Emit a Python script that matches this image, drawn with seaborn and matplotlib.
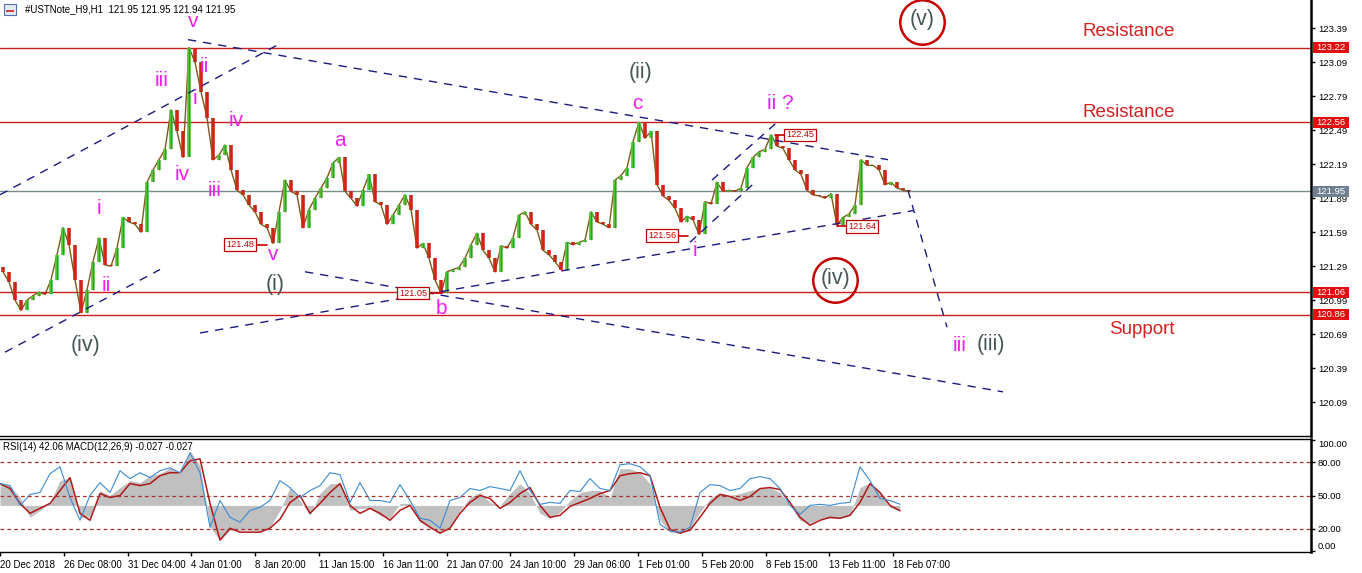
import matplotlib
matplotlib.use("Agg")
import matplotlib.pyplot as plt
import matplotlib.transforms as mtransforms
from matplotlib.patches import Rectangle
import numpy as np
import pandas as pd
import seaborn as sns

# ---- data -------------------------------------------------------------
# closing prices, one sample every 6 hourly bars
first_open = 121.28
closes = [121.24, 121.15, 120.99, 120.90, 120.99, 121.03, 121.06, 121.04, 121.17, 121.39,
          121.63, 121.48, 121.17, 120.88, 121.08, 121.33, 121.54, 121.30, 121.29, 121.45,
          121.72, 121.68, 121.66, 121.59, 122.03, 122.14, 122.23, 122.32, 122.67, 122.48,
          122.25, 123.22, 123.09, 122.83, 122.60, 122.23, 122.27, 122.36, 122.14, 121.96,
          121.92, 121.83, 121.77, 121.66, 121.63, 121.49, 121.77, 122.05, 121.95, 121.92,
          121.63, 121.79, 121.89, 121.98, 122.07, 122.20, 122.25, 121.95, 121.89, 121.82,
          121.96, 122.10, 121.86, 121.83, 121.66, 121.74, 121.83, 121.92, 121.79, 121.45,
          121.49, 121.36, 121.17, 121.05, 121.24, 121.26, 121.28, 121.36, 121.48, 121.58,
          121.43, 121.36, 121.24, 121.47, 121.45, 121.54, 121.74, 121.77, 121.66, 121.61,
          121.43, 121.39, 121.33, 121.26, 121.50, 121.48, 121.50, 121.52, 121.77, 121.68,
          121.66, 121.63, 122.05, 122.09, 122.16, 122.39, 122.56, 122.42, 122.48, 122.01,
          121.91, 121.87, 121.80, 121.68, 121.73, 121.70, 121.57, 121.86, 121.84, 122.03,
          121.95, 121.96, 121.95, 121.98, 122.16, 122.25, 122.30, 122.32, 122.45, 122.35,
          122.33, 122.23, 122.14, 122.10, 121.96, 121.92, 121.91, 121.89, 121.93, 121.65,
          121.72, 121.75, 121.83, 122.23, 122.18, 122.18, 122.14, 122.01, 122.03, 121.98,
          121.96, 121.95]

# indicator samples, one every 10 hourly bars
rsi = [60.7, 58.9, 41.1, 50.9, 52.7, 69.6, 75.9, 48.2, 27.7, 50.0,
       61.6, 52.7, 72.3, 65.2, 70.5, 66.1, 72.3, 75.0, 70.5, 88.4,
       70.5, 21.4, 45.5, 30.4, 25.9, 36.6, 39.3, 45.5, 63.4, 57.1,
       48.2, 54.5, 58.9, 70.5, 68.8, 43.8, 61.6, 45.5, 45.5, 43.8,
       59.8, 45.5, 29.5, 27.7, 20.5, 45.5, 48.2, 56.3, 54.5, 58.0,
       56.3, 54.5, 72.3, 54.5, 42.0, 43.8, 42.9, 54.5, 53.6, 65.2,
       56.3, 54.5, 77.7, 78.6, 75.9, 67.9, 24.1, 17.9, 17.0, 21.4,
       52.7, 59.8, 58.9, 54.5, 56.3, 65.2, 67.0, 65.2, 56.3, 41.1,
       33.0, 41.1, 42.0, 41.1, 42.9, 43.8, 75.9, 63.4, 47.3, 45.5, 42.1]
macd_signal = [0.11, 0.085, 0.01, -0.04, -0.015, 0.01, 0.075, 0.14, -0.04, -0.075,
               0.06, 0.04, 0.05, 0.11, 0.10, 0.11, 0.15, 0.165, 0.165, 0.225,
               0.235, 0.01, -0.175, -0.115, -0.135, -0.135, -0.135, -0.115, -0.07, 0.015,
               0.05, -0.04, 0.01, 0.065, 0.11, 0.0, -0.04, -0.015, -0.04, -0.075,
               -0.025, 0.0, -0.075, -0.11, -0.14, -0.115, -0.04, 0.015, 0.05, 0.035,
               -0.015, 0.015, 0.06, 0.09, 0.0, -0.06, -0.05, -0.005, 0.015, 0.035,
               0.06, 0.075, 0.15, 0.16, 0.165, 0.15, -0.01, -0.12, -0.14, -0.125,
               -0.06, 0.01, 0.055, 0.045, 0.025, 0.045, 0.085, 0.09, 0.08, 0.015,
               -0.06, -0.10, -0.075, -0.06, -0.065, -0.05, 0.015, 0.11, 0.065, 0.0, -0.027]
macd_hist = [0.115, 0.10, 0.04, -0.06, -0.025, 0.015, 0.125, 0.14, -0.06, -0.06,
             0.075, 0.05, 0.09, 0.125, 0.115, 0.15, 0.16, 0.19, 0.16, 0.275,
             0.20, -0.11, -0.175, -0.125, -0.125, -0.125, -0.13, -0.11, -0.025, 0.09,
             0.025, -0.05, 0.06, 0.11, 0.11, -0.025, -0.015, -0.015, -0.05, -0.065,
             0.01, 0.01, -0.085, -0.11, -0.14, -0.11, -0.025, 0.04, 0.065, 0.015,
             0.0, 0.06, 0.11, 0.06, -0.04, -0.065, -0.035, 0.025, 0.065, 0.075,
             0.075, 0.04, 0.185, 0.185, 0.165, 0.11, -0.075, -0.135, -0.14, -0.115,
             -0.035, 0.035, 0.065, 0.05, 0.06, 0.075, 0.085, 0.09, 0.065, 0.0,
             -0.075, -0.09, -0.065, -0.065, -0.065, -0.05, 0.09, 0.115, 0.065, -0.01, -0.027]

date_labels = ["20 Dec 2018", "26 Dec 08:00", "31 Dec 04:00", "4 Jan 01:00", "8 Jan 20:00",
               "11 Jan 15:00", "16 Jan 11:00", "21 Jan 07:00", "24 Jan 10:00", "29 Jan 06:00",
               "1 Feb 01:00", "5 Feb 20:00", "8 Feb 15:00", "13 Feb 11:00", "18 Feb 07:00"]

levels = [123.22, 122.56, 121.06, 120.86]
last_price = 121.95
price_ticks = [120.09, 120.39, 120.69, 120.99, 121.29, 121.59, 121.89,
               122.19, 122.49, 122.79, 123.09, 123.39]

# hand drawn trend lines: (bar, price) -> (bar, price)
tl_x0 = [0, 5, 188, 305, 200, 690, 712, 908]
tl_p0 = [121.92, 120.53, 123.29, 121.24, 120.70, 121.50, 122.05, 121.96]
tl_x1 = [277, 160, 888, 1003, 913, 755, 777, 947]
tl_p1 = [123.24, 121.26, 122.23, 120.18, 121.78, 122.03, 122.56, 120.75]

# wave labels
wave_text = ["v", "iii", "ii", "i", "iv", "iv", "iii", "i", "ii", "v", "a", "b", "c", "i", "ii ?", "iii"]
wave_x = [193, 162, 204, 195, 236, 182, 215, 99, 106, 273, 340, 441, 637, 695, 780, 960]
wave_p = [123.45, 122.93, 123.05, 122.77, 122.58, 122.10, 121.96, 121.80, 121.12,
          121.39, 122.40, 120.92, 122.73, 121.43, 122.73, 120.59]
degree_text = ["(v)", "(ii)", "(i)", "(iv)", "(iv)", "(iii)"]
degree_x = [922, 640, 275, 86, 835, 991]
degree_p = [123.47, 123.00, 121.13, 120.59, 121.18, 120.60]
circle_x = [922, 835]
circle_p = [123.45, 121.17]

# price tags
tag_val = [121.48, 121.05, 121.56, 122.45, 121.64]
tag_x = [240, 413, 662, 800, 862]
tag_lx0 = [254, 428, 677, 775, 837]
tag_lx1 = [267, 442, 688, 785, 847]

# ---- style ------------------------------------------------------------
sns.set_theme(style="white")
plt.rcParams['font.family'] = ['Liberation Sans', 'DejaVu Sans']

W, H = 1362, 573
fig = plt.figure(figsize=(W / 100, H / 100), dpi=100)
ax = fig.add_axes([0, 1 - 436 / H, 1311 / W, 436 / H])
low = fig.add_axes([0, 1 - 552 / H, 1311 / W, 113 / H])

XMAX = 1311
BAR = 6

# ---- candles ----------------------------------------------------------
df = pd.DataFrame({"x": [3 + BAR * i for i in range(len(closes))],
                   "open": [first_open] + closes[:-1],
                   "close": closes})
up = df[df["close"] >= df["open"]]
dn = df[df["close"] < df["open"]]
sns.lineplot(data=df, x="x", y="close", ax=ax, color="#7a5c18", lw=1.0, zorder=3)
ax.vlines(up["x"], up["open"], up["close"], color="#4fc236", lw=2.6, zorder=3)
ax.vlines(dn["x"], dn["close"], dn["open"], color="#cc2a1a", lw=2.6, zorder=3)
ax.vlines(df["x"], df[["open", "close"]].min(axis=1), df[["open", "close"]].max(axis=1),
          color="#6b4a10", lw=0.6, alpha=0.6, zorder=4)

for lv in levels:
    ax.axhline(lv, color="#c81e1e", lw=1, zorder=2)
ax.axhline(last_price, color="#7b8b8b", lw=1, zorder=2)

for x0, p0, x1, p1 in zip(tl_x0, tl_p0, tl_x1, tl_p1):
    ax.plot([x0, x1], [p0, p1], color="#1a1a80", lw=1, ls=(0, (6, 5)), zorder=5)

for t, x, p in zip(wave_text, wave_x, wave_p):
    ax.text(x, p, t, color="#ee22ee", fontsize=15, ha="center", va="center", zorder=6)
for t, x, p in zip(degree_text, degree_x, degree_p):
    ax.text(x, p, t, color="#465656", fontsize=15.5, ha="center", va="center", zorder=6)
ax.plot(circle_x, circle_p, ls="none", marker="o", ms=32, mfc="none",
        mec="#c40000", mew=1.8, zorder=6, clip_on=False)

ax.text(1129, 123.36, "Resistance", color="#d42020", fontsize=13.5, ha="center", va="center")
ax.text(1129, 122.65, "Resistance", color="#d42020", fontsize=13.5, ha="center", va="center")
ax.text(1142, 120.73, "Support", color="#d42020", fontsize=13.5, ha="center", va="center")

for v, x, lx0, lx1 in zip(tag_val, tag_x, tag_lx0, tag_lx1):
    ax.plot([lx0, lx1], [v, v], color="#c00000", lw=1.2, zorder=6)
    ax.text(x, v, f"{v:.2f}", color="#c00000", fontsize=6.6, ha="center", va="center",
            zorder=7, bbox=dict(boxstyle="square,pad=0.18", fc="white", ec="#c00000", lw=0.9))

ax.set_xlim(0, XMAX)
ax.set_ylim(119.79, 123.64)
ax.set_xticks([])
ax.set_xlabel("")
ax.set_ylabel("")
ax.yaxis.tick_right()
ax.set_yticks(price_ticks)
ax.set_yticklabels([f"{t:.2f}" for t in price_ticks])
ax.tick_params(axis="y", right=True, length=3, width=1, color="black", pad=2,
               labelsize=6.8, labelcolor="black")
for s in ["left", "top"]:
    ax.spines[s].set_visible(False)
ax.spines["right"].set_color("black")
ax.spines["right"].set_linewidth(1.8)
ax.spines["bottom"].set_color("black")
ax.spines["bottom"].set_linewidth(1.0)

# right-axis price boxes
trans = mtransforms.blended_transform_factory(ax.transAxes, ax.transData)
bw, bh = 36 / 1311, 11 * 0.008824
for lv, fc in zip(levels + [last_price], ["#e01010"] * 4 + ["#708090"]):
    ax.add_patch(Rectangle((1.0015, lv - bh / 2), bw, bh, transform=trans, fc=fc,
                           ec="none", clip_on=False, zorder=10))
    ax.text(1.0015 + bw / 2, lv, f"{lv:.2f}", transform=trans, color="white", fontsize=6.8,
            ha="center", va="center", clip_on=False, zorder=11)

# ---- indicator panel --------------------------------------------------
osc = pd.DataFrame({"x": [10 * i for i in range(len(rsi))], "rsi": rsi,
                    "signal": macd_signal, "histo": macd_hist})
macd_ax = low.twinx()
macd_ax.set_zorder(0)
low.set_zorder(1)
low.patch.set_visible(False)
macd_ax.fill_between(osc["x"], 0, osc["histo"], color="#c0c0c0", linewidth=0)
sns.lineplot(data=osc, x="x", y="signal", ax=macd_ax, color="#b01818", lw=1.1)
macd_ax.set_ylim(-0.235, 0.335)
macd_ax.set_yticks([])
macd_ax.set_ylabel("")
for s in macd_ax.spines.values():
    s.set_visible(False)

sns.lineplot(data=osc, x="x", y="rsi", ax=low, color="#3d8ad0", lw=0.8)
for lv in [20, 50, 80]:
    low.axhline(lv, color="#a83232", lw=0.9, ls=(0, (3, 2.5)))
low.set_xlim(0, XMAX)
low.set_ylim(-0.9, 100.9)
low.yaxis.tick_right()
low.set_yticks([0, 20, 50, 80, 100])
low.set_yticklabels(["0.00", "20.00", "50.00", "80.00", "100.00"])
low.tick_params(axis="y", right=True, length=3, width=1, color="black", pad=2,
                labelsize=6.8, labelcolor="black")
low.get_yticklabels()[0].set_va("bottom")
low.get_yticklabels()[-1].set_va("top")
low.set_xticks([63.8 * i for i in range(len(date_labels))])
low.set_xticklabels(date_labels)
low.tick_params(axis="x", bottom=True, length=3, width=1, color="black", pad=3,
                labelsize=7, labelcolor="black")
for lbl in low.get_xticklabels():
    lbl.set_ha("left")
low.set_xlabel("")
low.set_ylabel("")
low.spines["left"].set_visible(False)
low.spines["right"].set_color("black")
low.spines["right"].set_linewidth(1.8)
for s in ["bottom", "top"]:
    low.spines[s].set_color("black")
    low.spines[s].set_linewidth(1.0)

# ---- headers ----------------------------------------------------------
fig.add_artist(Rectangle((4 / W, 1 - 15 / H), 12 / W, 11 / H, transform=fig.transFigure,
                         fc="#e4ebf5", ec="#5070b0", lw=0.8))
fig.add_artist(Rectangle((6 / W, 1 - 12 / H), 8 / W, 2 / H, transform=fig.transFigure,
                         fc="#d04040", ec="none"))
fig.text(25 / W, 1 - 9 / H, "#USTNote_H9,H1  121.95 121.95 121.94 121.95",
         fontsize=7.0, va="center", ha="left", color="black")
fig.text(3 / W, 1 - 447 / H, "RSI(14) 42.06 MACD(12,26,9) -0.027 -0.027",
         fontsize=6.9, va="center", ha="left", color="black")

fig.savefig("out.png", dpi=100)
